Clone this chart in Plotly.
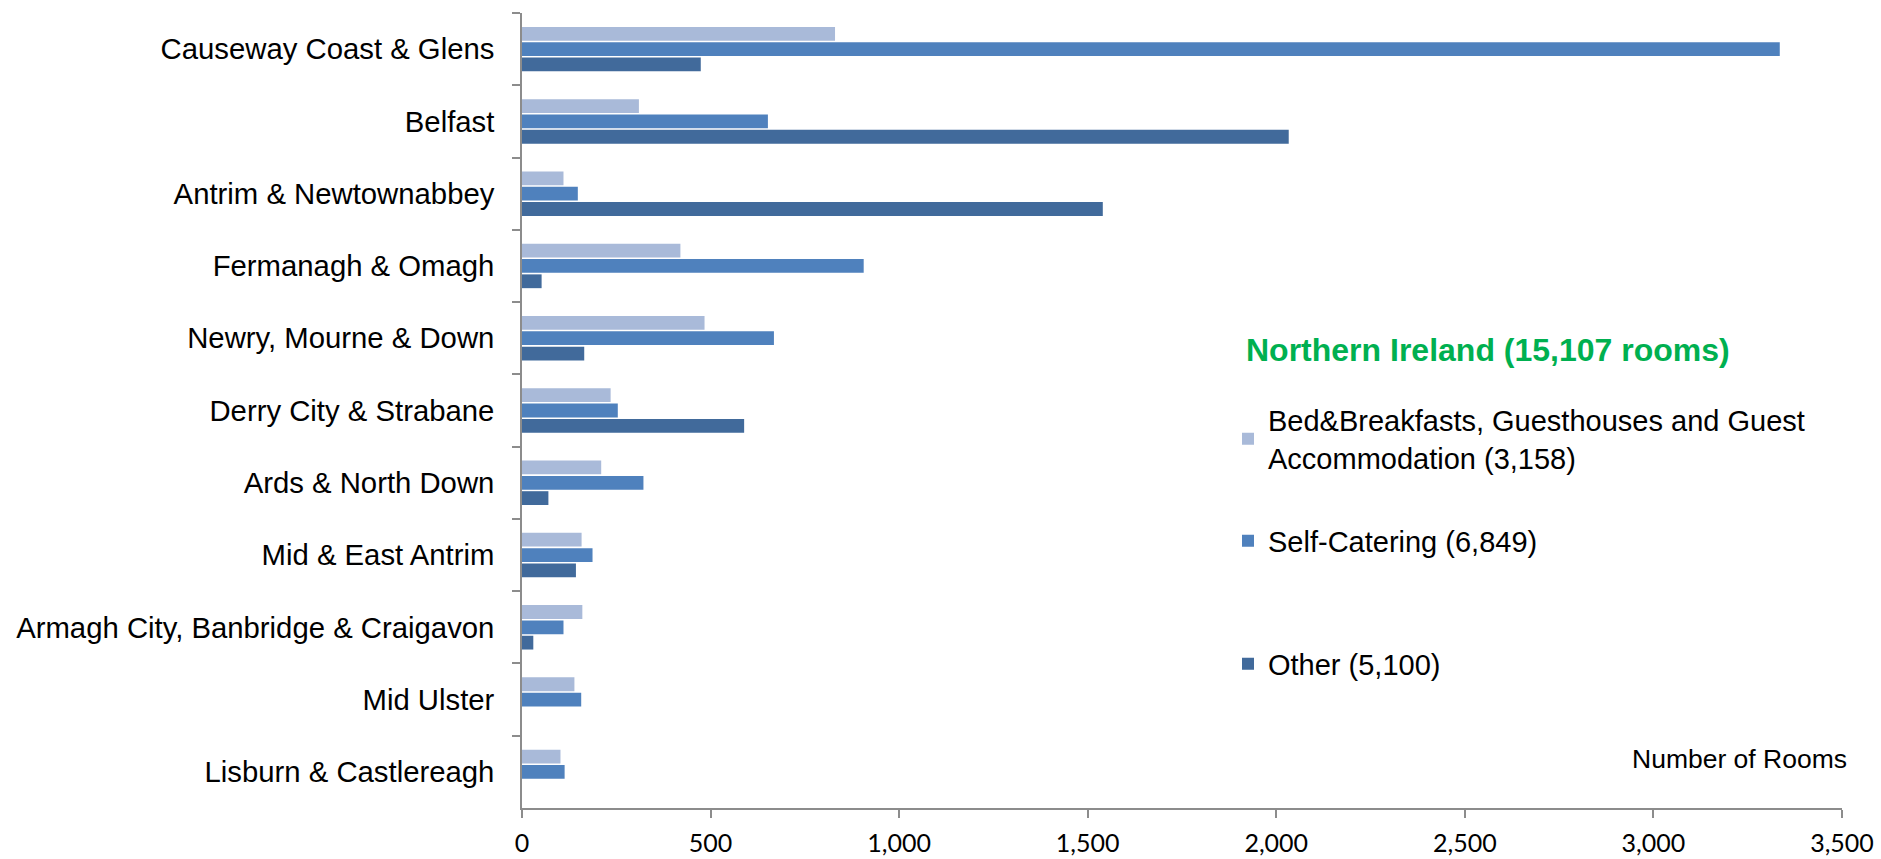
import plotly.graph_objects as go

# Council areas, top to bottom
councils = [
    "Causeway Coast & Glens",
    "Belfast",
    "Antrim & Newtownabbey",
    "Fermanagh & Omagh",
    "Newry, Mourne & Down",
    "Derry City & Strabane",
    "Ards & North Down",
    "Mid & East Antrim",
    "Armagh City, Banbridge & Craigavon",
    "Mid Ulster",
    "Lisburn & Castlereagh",
]

# Rooms by accommodation type
bnb_rooms = [830, 310, 110, 420, 484, 235, 210, 158, 160, 139, 102]
self_catering_rooms = [3335, 652, 148, 906, 668, 254, 322, 187, 110, 157, 113]
other_rooms = [474, 2033, 1540, 52, 165, 589, 70, 143, 30, 0, 0]

series_names = [
    "Bed&Breakfasts, Guesthouses and Guest<br>Accommodation (3,158)",
    "Self-Catering (6,849)",
    "Other (5,100)",
]
title_text = "Northern Ireland (15,107 rooms)"
x_title = "Number of Rooms"
x_ticks = [0, 500, 1000, 1500, 2000, 2500, 3000, 3500]

colors = ["#A9BAD9", "#4F81BD", "#416A9B"]

W, H = 1881, 859
L, R, T, B = 522, 39, 13, 51
PW, PH = W - L - R, H - T - B


def px_x(px):
    return (px - L) / PW


def px_y(py):
    return (H - B - py) / PH


fig = go.Figure()
legends = ["legend", "legend2", "legend3"]
for name, vals, col, lg in zip(
    series_names,
    [bnb_rooms, self_catering_rooms, other_rooms],
    colors,
    legends,
):
    fig.add_trace(
        go.Bar(
            y=councils,
            x=vals,
            orientation="h",
            name=name,
            marker=dict(color=col, line=dict(width=0)),
            legend=lg,
        )
    )

label_font = "Liberation Sans, Arial, sans-serif"

legend_common = dict(
    xref="paper",
    yref="paper",
    xanchor="left",
    yanchor="middle",
    bgcolor="rgba(0,0,0,0)",
    font=dict(family=label_font, size=29, color="#000000"),
    itemsizing="constant",
)

fig.update_layout(
    width=W,
    height=H,
    margin=dict(l=L, r=R, t=T, b=B, pad=0, autoexpand=False),
    paper_bgcolor="white",
    plot_bgcolor="white",
    barmode="group",
    bargap=0.364,
    bargroupgap=0.1,
    showlegend=True,
    legend=dict(x=px_x(1228), y=px_y(439), **legend_common),
    legend2=dict(x=px_x(1228), y=px_y(541), **legend_common),
    legend3=dict(x=px_x(1228), y=px_y(664), **legend_common),
    xaxis=dict(
        range=[0, 3500],
        tickvals=x_ticks,
        tickformat=",d",
        showgrid=False,
        zeroline=False,
        showline=True,
        linecolor="#8C8C8C",
        linewidth=1.5,
        ticks="outside",
        ticklen=8,
        tickwidth=1.5,
        tickcolor="#8C8C8C",
        ticklabelstandoff=4,
        tickfont=dict(family="Lato, Carlito, sans-serif", size=25, color="#000000"),
        fixedrange=True,
    ),
    yaxis=dict(
        autorange="reversed",
        showgrid=False,
        zeroline=False,
        showline=True,
        linecolor="#8C8C8C",
        linewidth=1.5,
        ticks="outside",
        ticklen=8,
        tickwidth=1.5,
        tickcolor="#8C8C8C",
        tickson="boundaries",
        ticklabelstandoff=20,
        tickfont=dict(family=label_font, size=29.3, color="#000000"),
        fixedrange=True,
    ),
    annotations=[
        dict(
            text="<b>" + title_text + "</b>",
            xref="paper",
            yref="paper",
            x=px_x(1244),
            y=px_y(350),
            xanchor="left",
            yanchor="middle",
            showarrow=False,
            font=dict(family=label_font, size=32, color="#00B050"),
        ),
        dict(
            text=x_title,
            xref="paper",
            yref="paper",
            x=px_x(1849),
            y=px_y(759),
            xanchor="right",
            yanchor="middle",
            showarrow=False,
            font=dict(family=label_font, size=26.5, color="#000000"),
        ),
    ],
)

fig.write_html("out.html")
